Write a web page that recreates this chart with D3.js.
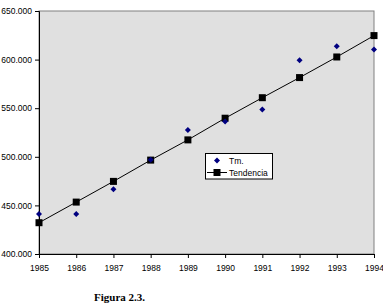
<!DOCTYPE html>
<html><head><meta charset="utf-8">
<script src="https://cdn.jsdelivr.net/npm/d3@7"></script>
<style>body{margin:0;background:#fff;}svg{display:block;}</style>
</head><body>
<svg id="chart" width="383" height="307"></svg>
<script>
const years = [1985,1986,1987,1988,1989,1990,1991,1992,1993,1994];
const tm = [441.1,441.1,466.5,497,527.7,536.3,548.7,599.3,613.7,610.3];
const tendencia = [432.2,453.4,474.7,496.6,517.4,539.7,560.8,581.5,602.7,624.7];
const yTicks = [400,450,500,550,600,650];
const seriesNames = ["Tm.","Tendencia"];
const caption = "Figura 2.3.";

const svg = d3.select("#chart");
const L=39, R=374, T=11, B=254;
const x = d3.scaleLinear().domain([1985,1994]).range([L,R]);
const y = d3.scaleLinear().domain([400,650]).range([B,T]);

svg.append("rect").attr("x",L).attr("y",T).attr("width",R-L).attr("height",B-T)
  .attr("fill","#e0e0e0").attr("stroke","#808080").attr("stroke-width",1);

const ya = svg.append("g").attr("transform",`translate(${L},0)`)
  .call(d3.axisLeft(y).tickValues(yTicks).tickSize(4).tickPadding(3).tickFormat(v=>d3.format(".3f")(v)));
const xa = svg.append("g").attr("transform",`translate(0,${B})`)
  .call(d3.axisBottom(x).tickValues(years).tickSize(4).tickPadding(7).tickFormat(d3.format("d")));
[ya,xa].forEach(g=>{
  g.selectAll("text").attr("font-family","Liberation Sans, Arial, sans-serif").attr("font-size","8.5px").attr("fill","#000");
  g.selectAll("line").attr("stroke","#000");
  g.select(".domain").attr("stroke","#000");
});

const line = d3.line().x((d,i)=>x(years[i])).y(d=>y(d));
svg.append("path").datum(tendencia).attr("d",line).attr("fill","none").attr("stroke","#000").attr("stroke-width",1);

svg.selectAll(".sq").data(tendencia).enter().append("rect")
  .attr("x",(d,i)=>x(years[i])-3.5).attr("y",d=>y(d)-3.5).attr("width",7).attr("height",7).attr("fill","#000");

const diamond = "M0,-3L3,0L0,3L-3,0Z";
svg.selectAll(".pt").data(tm).enter().append("path")
  .attr("d",diamond).attr("transform",(d,i)=>`translate(${x(years[i])},${y(d)})`).attr("fill","#000080");

// legend
const lg = svg.append("g");
lg.append("rect").attr("x",205.5).attr("y",153.5).attr("width",67).attr("height",25.5).attr("fill","#fff").attr("stroke","#000").attr("stroke-width",1);
lg.append("path").attr("d",diamond).attr("transform","translate(217,160.5)").attr("fill","#000080");
lg.append("line").attr("x1",207).attr("x2",227).attr("y1",172.5).attr("y2",172.5).attr("stroke","#000");
lg.append("rect").attr("x",213.5).attr("y",169).attr("width",7).attr("height",7).attr("fill","#000");
lg.selectAll("text").data(seriesNames).enter().append("text")
  .attr("x",229).attr("y",(d,i)=>163.5+i*12.3).text(d=>d)
  .attr("font-family","Liberation Sans, Arial, sans-serif").attr("font-size","8.5px");

svg.append("text").attr("x",94).attr("y",301).text(caption)
  .attr("font-family","Liberation Serif, Times New Roman, serif").attr("font-weight","bold").attr("font-size","11px");
</script>
</body></html>
